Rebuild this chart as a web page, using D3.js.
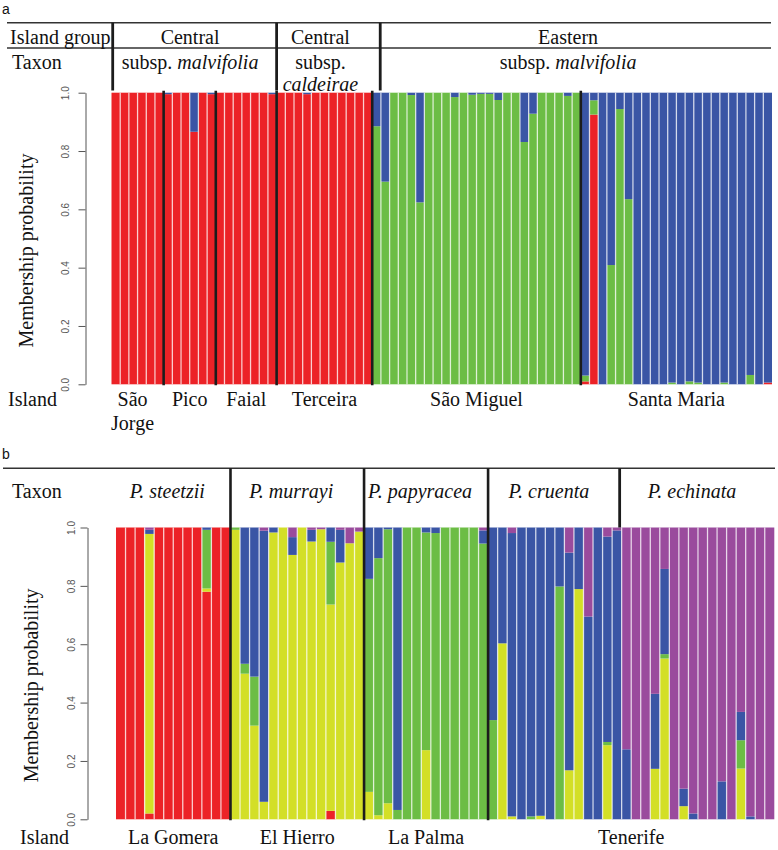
<!DOCTYPE html>
<html><head><meta charset="utf-8">
<script src="https://cdn.jsdelivr.net/npm/d3@7"></script>
<style>body{margin:0;background:#fff;} svg{display:block;}</style>
</head><body>
<svg id="chart" width="778" height="850"></svg>
<script>
// ---------- Panel a (Azores) ----------
const aIslands = ["São Jorge","Pico","Faial","Terceira","São Miguel","Santa Maria"];
const aIslandSizes = [6,6,7,11,24,22];
const aGroupLabels = ["Central","Central","Eastern"];
const aTaxonPrefix = ["subsp.","subsp.","subsp."];
const aTaxonName = ["malvifolia","caldeirae","malvifolia"];
const aGroupSizes = [19,11,46];
const aKeys = ["red","green","blue"];
const aRed = [
1,1,1,1,1,1,
0.995,1,1,0.866,1,0.995,
1,1,1,1,1,1,0.995,
1,1,1,0.995,1,1,1,1,1,1,1,
0,0,0,0,0,0,0,0,0,0,0,0,0,0,0,0,0,0,0,0,0,0,0,0,
0.01,0.925,0,0,0,0,0,0,0,0,0,0,0,0,0,0,0,0,0,0,0,0.006
];
const aGreen = [
0,0,0,0,0,0,
0,0,0,0,0,0,
0,0,0,0,0,0,0,
0,0,0,0,0,0,0,0,0,0,0,
0.885,0.695,1,1,0.992,0.624,1,1,1,0.985,1,0.993,0.996,0.996,0.975,1,1,0.831,0.928,1,1,1,0.989,1,
0.02,0.049,0,0.409,0.944,0.635,0,0,0,0,0.006,0,0.01,0.006,0,0,0.006,0,0,0.032,0,0
];
const aBlue = [
0,0,0,0,0,0,
0.005,0,0,0.134,0,0.005,
0,0,0,0,0,0,0.005,
0,0,0,0.005,0,0,0,0,0,0,0,
0.115,0.305,0,0,0.008,0.376,0,0,0,0.015,0,0.007,0.004,0.004,0.025,0,0,0.169,0.072,0,0,0,0.011,0,
0.97,0.026,1,0.591,0.056,0.365,1,1,1,1,0.994,1,0.99,0.994,1,1,0.994,1,1,0.968,1,0.994
];

// ---------- Panel b (Canaries) ----------
const bIslands = ["La Gomera","El Hierro","La Palma","Tenerife"];
const bIslandSizes = [12,14,13,30];
const bTaxa = ["P. steetzii","P. murrayi","P. papyracea","P. cruenta","P. echinata"];
const bTaxaSizes = [12,14,13,14,16];
const bKeys = ["red","yellow","green","blue","purple"];
const bRed = [
1,1,1,0.02,1,1,1,1,1,0.78,1,1,
0,0,0,0,0,0,0,0,0,0,0.029,0,0,0,
0,0,0,0,0,0,0,0,0,0,0,0,0,
0,0,0,0,0,0,0,0,0,0,0,0,0,0,0,0,0,0,0,0,0,0,0,0,0,0,0,0,0,0
];
const bYellow = [
0,0,0,0.958,0,0,0,0,0,0.011,0,0,
0.992,0.499,0.321,0.06,0.983,1,0.906,1,0.952,0.994,0.707,0.88,0.946,0.986,
0.094,0.014,0.055,0,0,0,0.237,0,0,0,0,0,0,
0,0.603,0.01,0,0,0.012,0,0,0.168,0.789,0,0,0.254,0,0,0,0,0.173,0.551,0,0.045,0,0,0,0,0,0.174,0,0,0
];
const bGreen = [
0,0,0,0,0,0,0,0,0,0.201,0,0,
0.008,0.034,0.168,0,0,0,0,0,0,0,0.215,0,0,0,
0.73,0.881,0.939,0.032,1,1,0.746,0.981,1,1,1,1,0.945,
0.34,0,0,0,0.01,0,0,0.798,0,0,0,0,0.011,0,0,0,0,0,0.015,0,0,0,0,0,0,0,0.097,0,0,0
];
const bBlue = [
0,0,0,0.014,0,0,0,0,0,0.008,0,0,
0,0.467,0.511,0.929,0.017,0,0.061,0,0.04,0,0.049,0.112,0,0,
0.176,0.105,0.006,0.968,0,0,0.017,0.019,0,0,0,0,0.045,
0.66,0.397,0.971,1,0.99,0.988,1,0.202,0.746,0.211,0.695,1,0.704,0.99,0.24,0,0,0.257,0.292,0,0.06,0.02,0,0,0.13,0,0.097,0.01,0,0
];
const bPurple = [
0,0,0,0.008,0,0,0,0,0,0,0,0,
0,0,0,0.011,0,0,0.033,0,0.008,0.006,0,0.008,0.054,0.014,
0,0,0,0,0,0,0,0,0,0,0,0,0.01,
0,0,0.019,0,0,0,0,0,0.086,0,0.305,0,0.031,0.01,0.76,1,1,0.57,0.142,1,0.895,0.98,1,1,0.87,1,0.632,0.99,1,1
];

const yTicks = [0,0.2,0.4,0.6,0.8,1.0];
const colors = {red:"#EC2227", green:"#6CBD45", blue:"#3A55A5", yellow:"#D3DF27", purple:"#9A4B9D"};

// ---------- drawing ----------
const svg = d3.select("#chart");
const serif = "'Liberation Serif','Times New Roman',serif";
const sans = "'Liberation Sans',Arial,sans-serif";
const ink = "#1c1c1c";

function drawBars(keys, series, x, y) {
  const n = series[0].length;
  const rows = d3.range(n).map(i => { const r = {i}; keys.forEach((k,j) => r[k] = series[j][i]); return r; });
  const stacked = d3.stack().keys(keys)(rows);
  const g = svg.append("g");
  g.selectAll("g").data(stacked).join("g").attr("fill", d => colors[d.key])
    .selectAll("rect").data(d => d.filter(s => s[1] - s[0] > 0)).join("rect")
    .attr("x", d => x(d.data.i)).attr("width", x.bandwidth())
    .attr("y", d => y(d[1])).attr("height", d => y(d[0]) - y(d[1]));
  g.append("g").selectAll("line").data(d3.range(1, n)).join("line")
    .attr("x1", i => x(i)).attr("x2", i => x(i))
    .attr("y1", y(1)).attr("y2", y(0))
    .attr("stroke", "#fff").attr("stroke-opacity", 0.72).attr("stroke-width", 1.3);
}

function drawAxis(y, ax, labelOffset) {
  const g = svg.append("g").attr("transform", `translate(${ax},0)`)
    .call(d3.axisLeft(y).tickValues(yTicks).tickSize(7).tickSizeOuter(0).tickFormat(d3.format(".1f")));
  g.select(".domain").attr("stroke", "#555");
  g.selectAll(".tick line").attr("stroke", "#555");
  g.selectAll(".tick text").attr("x", null).attr("dy", null)
    .attr("text-anchor", "middle").attr("transform", `translate(${labelOffset},0) rotate(-90)`)
    .attr("font-family", sans).attr("font-size", 10).attr("fill", "#555");
}

function cum(sizes) { let s = 0; return sizes.map(v => { const a = s; s += v; return [a, s]; }); }

function text(x, y, str, opts = {}) {
  return svg.append("text").attr("x", x).attr("y", y)
    .attr("font-family", opts.family || serif).attr("font-size", opts.size || 20)
    .attr("text-anchor", opts.anchor || "start").attr("fill", opts.fill || "#111")
    .attr("font-style", opts.italic ? "italic" : null).text(str);
}

// ===== Panel a =====
const nA = aRed.length;
const xA = d3.scaleBand().domain(d3.range(nA)).range([111.5, 772]);
const yA = d3.scaleLinear().domain([0, 1]).range([384.3, 92.7]);

drawBars(aKeys, [aRed, aGreen, aBlue], xA, yA);
drawAxis(yA, 85.5, -17);

text(2, 14, "a", {family: sans, size: 14});
// header lines
[22.7, 48].forEach(yy => svg.append("line").attr("x1", 7).attr("x2", 771).attr("y1", yy).attr("y2", yy)
  .attr("stroke", "#333").attr("stroke-width", 1.6));
text(10, 43.5, "Island group");
text(12, 68.5, "Taxon");
// header dividers
const aHeadDiv = [xA(0) + 1.2, xA(19), xA(30) + 8];
aHeadDiv.forEach(xx => svg.append("line").attr("x1", xx).attr("x2", xx).attr("y1", 22.7).attr("y2", 90.5)
  .attr("stroke", ink).attr("stroke-width", 2.8));
// group and taxon labels
cum(aGroupSizes).forEach(([s, e], i) => {
  const cx = (xA(s) + xA(e - 1) + xA.bandwidth()) / 2 - 4;
  text(cx, 43.5, aGroupLabels[i], {anchor: "middle"});
  const w = xA(e - 1) + xA.bandwidth() - xA(s);
  if (w < 110) {
    text(cx, 68.5, aTaxonPrefix[i], {anchor: "middle"});
    text(cx, 90.5, aTaxonName[i], {anchor: "middle", italic: true});
  } else {
    const t = text(cx, 68.5, "", {anchor: "middle"});
    t.append("tspan").text(aTaxonPrefix[i] + " ");
    t.append("tspan").attr("font-style", "italic").text(aTaxonName[i]);
  }
});
// island dividers inside plot
cum(aIslandSizes).slice(1).forEach(([s]) => {
  svg.append("line").attr("x1", xA(s)).attr("x2", xA(s)).attr("y1", yA(1) - 2).attr("y2", yA(0) + 1)
    .attr("stroke", ink).attr("stroke-width", 2.6);
});
// island labels
text(8, 406, "Island");
cum(aIslandSizes).forEach(([s, e], i) => {
  const cx = (xA(s) + xA(e - 1) + xA.bandwidth()) / 2;
  const parts = aIslands[i] === "São Jorge" ? ["São", "Jorge"] : [aIslands[i]];
  parts.forEach((p, k) => text(cx - (parts.length > 1 ? 5 : 0), 406 + k * 24, p, {anchor: "middle"}));
});
svg.append("text").attr("transform", `translate(33,${(yA(0) + yA(1)) / 2 + 12}) rotate(-90)`)
  .attr("text-anchor", "middle").attr("font-family", serif).attr("font-size", 20).attr("fill", "#111")
  .text("Membership probability");

// ===== Panel b =====
const nB = bRed.length;
const xB = d3.scaleBand().domain(d3.range(nB)).range([116, 774.3]);
const yB = d3.scaleLinear().domain([0, 1]).range([819.3, 527.5]);

drawBars(bKeys, [bRed, bYellow, bGreen, bBlue, bPurple], xB, yB);
drawAxis(yB, 87.5, -13);

text(2, 459, "b", {family: sans, size: 14});
svg.append("line").attr("x1", 3).attr("x2", 775).attr("y1", 468.3).attr("y2", 468.3)
  .attr("stroke", "#333").attr("stroke-width", 1.6);
text(12, 498, "Taxon");
// taxon labels
cum(bTaxaSizes).forEach(([s, e], i) => {
  let x0 = xB(s), x1 = xB(e - 1) + xB.bandwidth();
  text((x0 + x1) / 2 - 6, 498, bTaxa[i], {anchor: "middle", italic: true});
});
// dividers: island boundaries run full height, last taxon boundary only in header
cum(bIslandSizes).slice(1).forEach(([s]) => {
  svg.append("line").attr("x1", xB(s)).attr("x2", xB(s)).attr("y1", 468.3).attr("y2", yB(0) + 1)
    .attr("stroke", ink).attr("stroke-width", 2.6);
});
const bTaxDiv = cum(bTaxaSizes)[4][0];
svg.append("line").attr("x1", xB(bTaxDiv) - 2).attr("x2", xB(bTaxDiv) - 2).attr("y1", 468.3).attr("y2", yB(1))
  .attr("stroke", ink).attr("stroke-width", 2.8);
// island labels
text(20, 844, "Island");
cum(bIslandSizes).forEach(([s, e], i) => {
  const cx = (xB(s) + xB(e - 1) + xB.bandwidth()) / 2;
  text(cx, 844, bIslands[i], {anchor: "middle"});
});
svg.append("text").attr("transform", `translate(38,${(yB(0) + yB(1)) / 2 + 12}) rotate(-90)`)
  .attr("text-anchor", "middle").attr("font-family", serif).attr("font-size", 20).attr("fill", "#111")
  .text("Membership probability");
</script></body></html>
